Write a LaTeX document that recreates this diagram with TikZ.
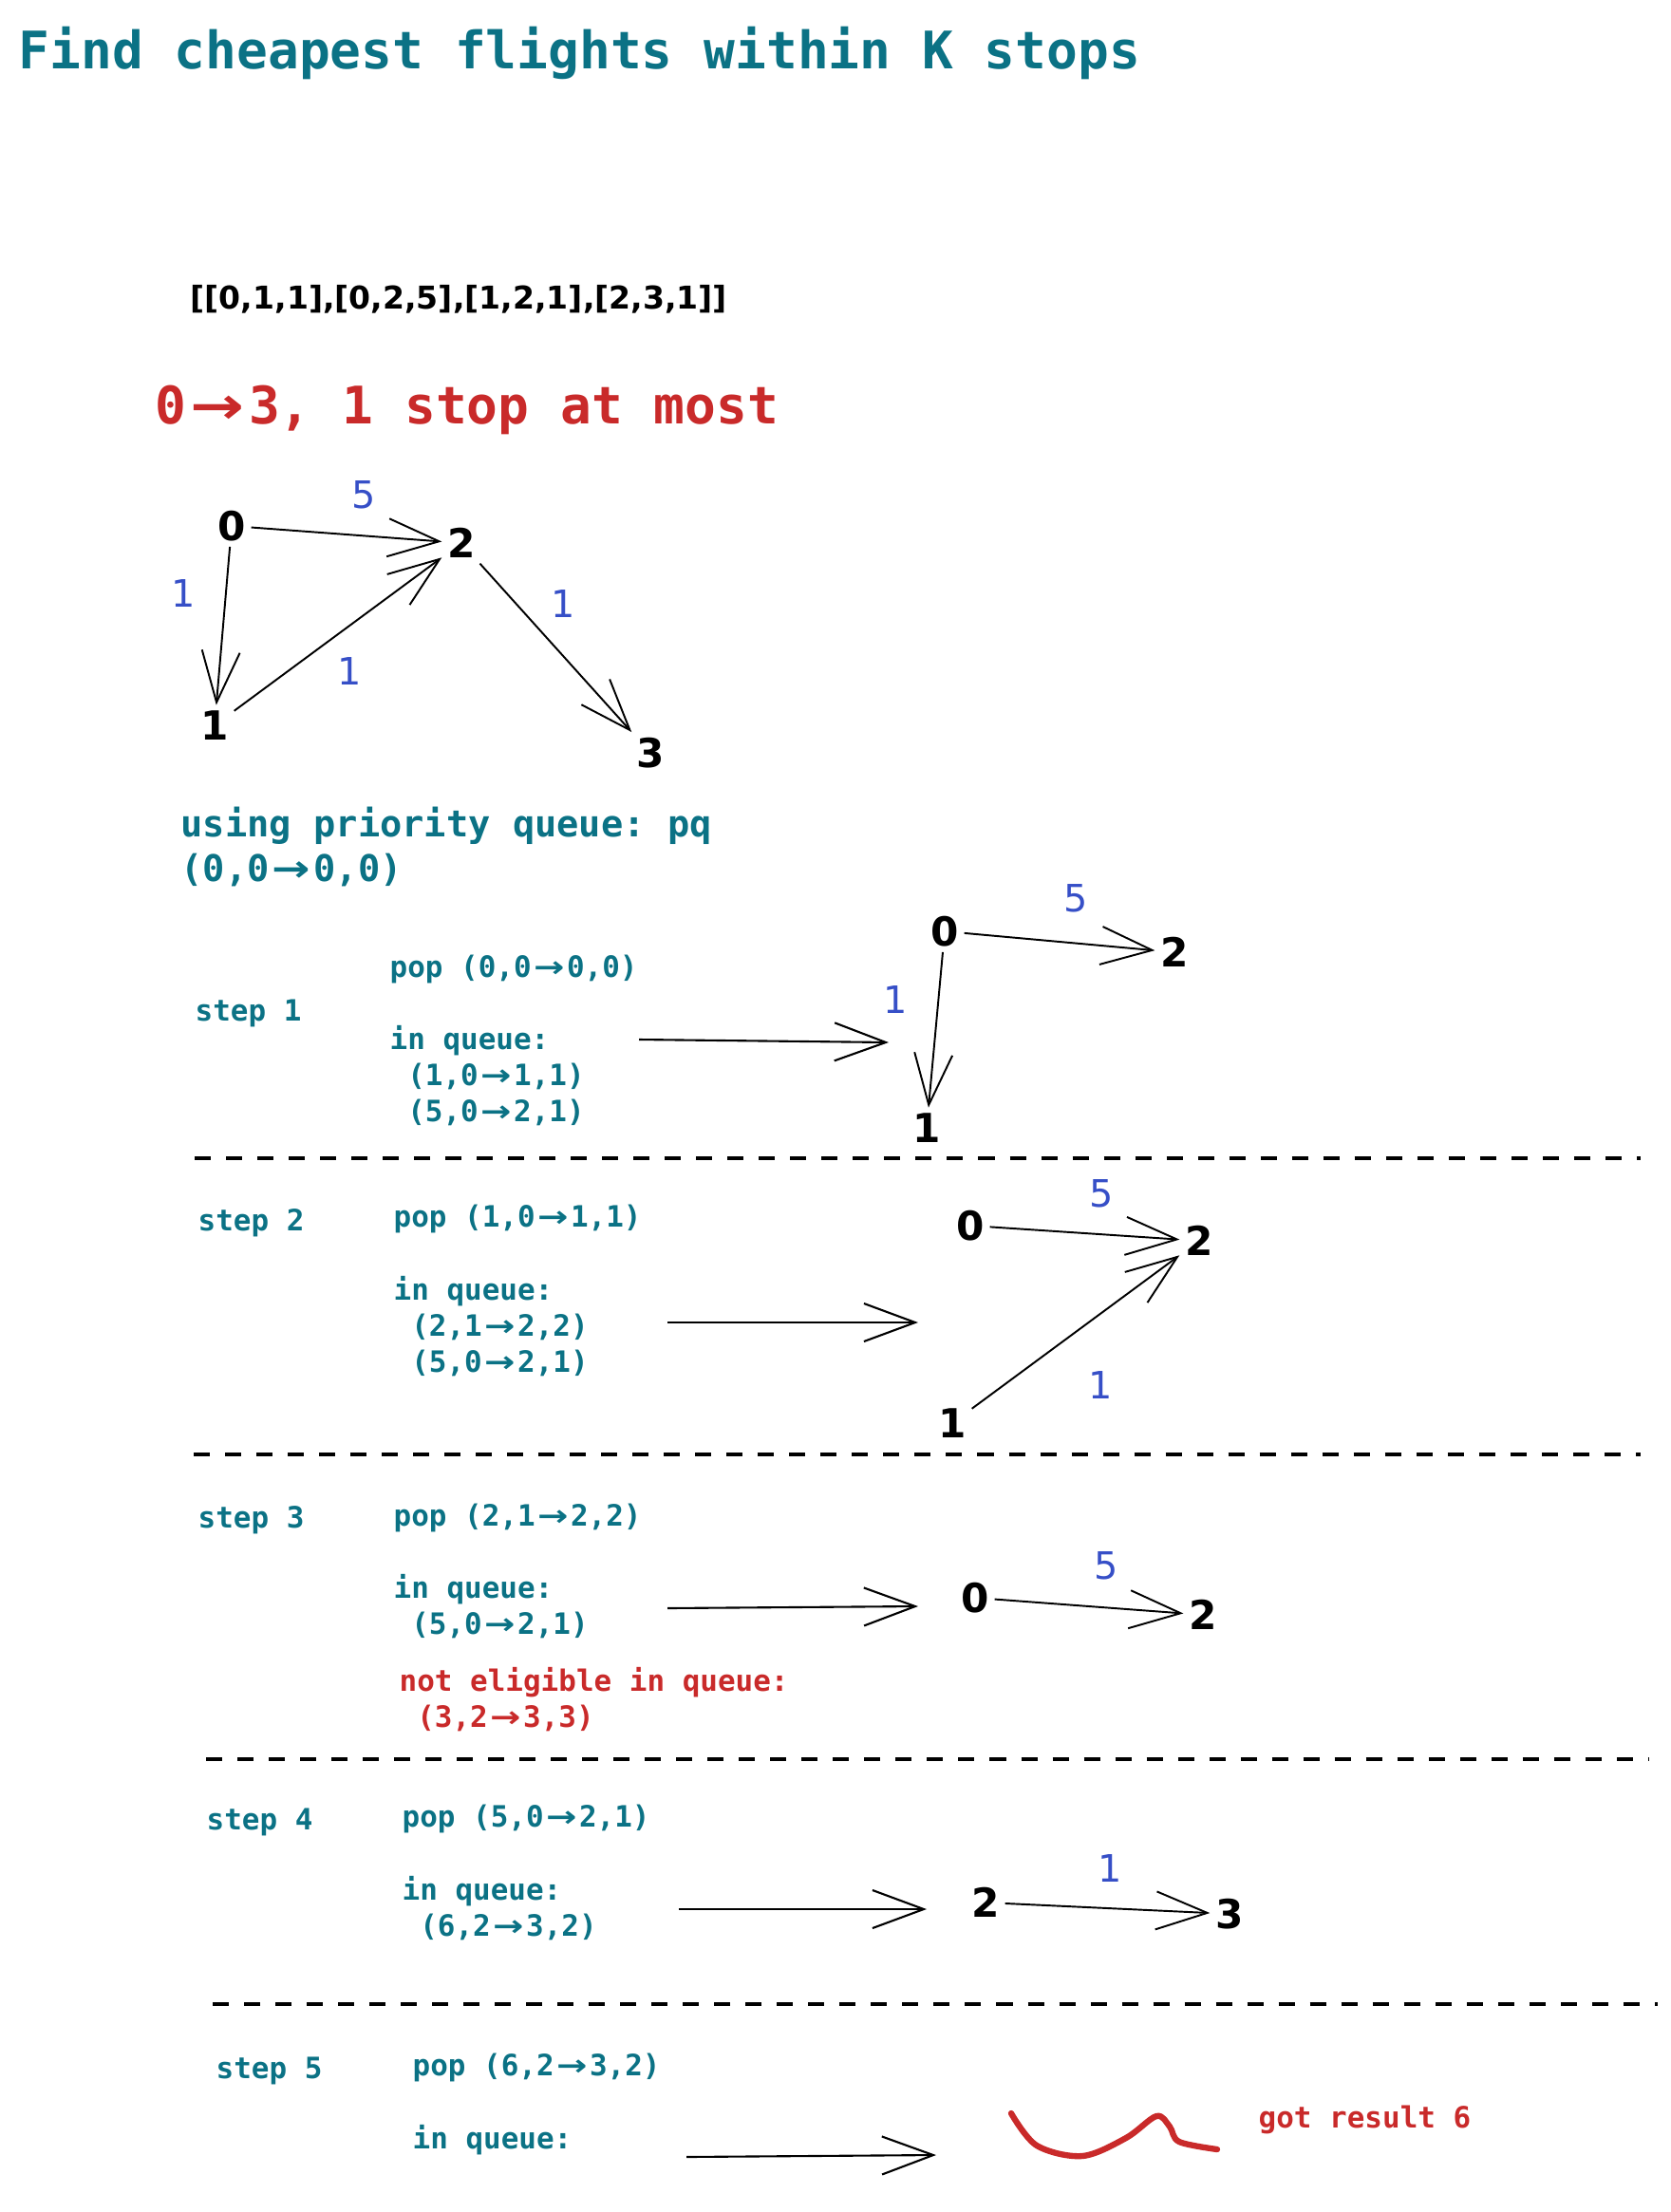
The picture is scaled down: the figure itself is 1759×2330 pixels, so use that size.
\documentclass[tikz,border=0pt]{standalone}
\usepackage{fontspec}
\setmainfont{DejaVu Sans}
\setmonofont{DejaVu Sans Mono}
\newfontfamily\arrowfont{DejaVu Sans}
\usetikzlibrary{positioning,arrows.meta}

\definecolor{tealtxt}{RGB}{11,114,133}
\definecolor{redtxt}{RGB}{201,42,42}
\definecolor{bluetxt}{RGB}{54,79,199}

% seta larga (ocupa duas colunas do texto mono)
\newcommand{\qarrow}{\makebox[1.204em]{\arrowfont\bfseries\scalebox{1.25}[1]{→}}}

\tikzset{
  vert/.style={inner sep=1.5pt,font=\bfseries\fontsize{12}{15}\selectfont},
  wlabel/.style={inner sep=0pt,text=bluetxt,font=\fontsize{11.3}{13}\selectfont},
  steptxt/.style={inner sep=0pt,anchor=west,align=left,text=tealtxt,
    font=\ttfamily\bfseries\fontsize{8.8}{10.7}\selectfont},
  warn/.style={steptxt,text=redtxt},
  link/.style={->,line width=0.55pt},
  divline/.style={line width=0.9pt,dash pattern=on 0.17cm off 0.16cm},
}

\begin{document}
\begin{tikzpicture}[x=0.01cm,y=-0.01cm,>={Straight Barb[length=5.4mm,width=4mm]}]
\useasboundingbox (0,0) rectangle (1759,2330);

% cabecalho
\node[anchor=west,inner sep=0pt,text=tealtxt,font=\ttfamily\bfseries\fontsize{15.5}{18}\selectfont] (title) at (19,56) {Find cheapest flights within K stops};
\node[anchor=west,inner sep=0pt,font=\bfseries\fontsize{9.4}{12}\selectfont] (flights) at (200,315) {[[0,1,1],[0,2,5],[1,2,1],[2,3,1]]};
\node[anchor=west,inner sep=0pt,text=redtxt,font=\ttfamily\bfseries\fontsize{15.5}{19}\selectfont] (goal) at (163,432) {0\qarrow3, 1 stop at most};

% grafo completo
\node[vert] (g0) at (244,554) {0};
\node[vert] (g2) at (486,572) {2};
\node[vert] (g1) at (226,764) {1};
\node[vert] (g3) at (685,793) {3};
\node[wlabel] (g02w) at (383,521) {5};
\node[wlabel] (g01w) at (193,625) {1};
\node[wlabel] (g12w) at (368,707) {1};
\node[wlabel] (g23w) at (593,636) {1};
\foreach \x/\y in {g0/g2,g0/g1,g1/g2,g2/g3} {\draw[link] (\x) -- (\y);}

\node[anchor=west,inner sep=0pt,align=left,text=tealtxt,font=\ttfamily\bfseries\fontsize{11}{13.1}\selectfont] (pq) at (190,892) {using priority queue: pq\\(0,0\qarrow0,0)};

% step 1
\node[steptxt] (s1) at (205,1067) {step 1};
\node[steptxt] (s1pop) at (410,1021) {pop (0,0\qarrow0,0)};
\node[steptxt] (s1q) at (410,1133) {in queue:\\~(1,0\qarrow1,1)\\~(5,0\qarrow2,1)};
\node[vert] (a0) at (995,981) {0};
\node[vert] (a2) at (1237,1003) {2};
\node[vert] (a1) at (976,1188) {1};
\node[wlabel] (a02w) at (1133,946) {5};
\node[wlabel] (a01w) at (943,1053) {1};
\foreach \x/\y in {a0/a2,a0/a1} {\draw[link] (\x) -- (\y);}
\coordinate (s1from) at (673,1095);
\coordinate (s1to) at (936,1098);

% step 2
\node[steptxt] (s2) at (208,1288) {step 2};
\node[steptxt] (s2pop) at (414,1284) {pop (1,0\qarrow1,1)};
\node[steptxt] (s2q) at (414,1397) {in queue:\\~(2,1\qarrow2,2)\\~(5,0\qarrow2,1)};
\node[vert] (b0) at (1022,1291) {0};
\node[vert] (b2) at (1263,1307) {2};
\node[vert] (b1) at (1003,1499) {1};
\node[wlabel] (b02w) at (1160,1257) {5};
\node[wlabel] (b12w) at (1159,1459) {1};
\foreach \x/\y in {b0/b2,b1/b2} {\draw[link] (\x) -- (\y);}
\coordinate (s2from) at (703,1393);
\coordinate (s2to) at (967,1393);

% step 3
\node[steptxt] (s3) at (208,1601) {step 3};
\node[steptxt] (s3pop) at (414,1599) {pop (2,1\qarrow2,2)};
\node[steptxt] (s3q) at (414,1692) {in queue:\\~(5,0\qarrow2,1)};
\node[warn] (s3skip) at (420,1790) {not eligible in queue:\\~(3,2\qarrow3,3)};
\node[vert] (c0) at (1027,1683) {0};
\node[vert] (c2) at (1267,1701) {2};
\node[wlabel] (c02w) at (1165,1649) {5};
\draw[link] (c0) -- (c2);
\coordinate (s3from) at (703,1694);
\coordinate (s3to) at (967,1692);

% step 4
\node[steptxt] (s4) at (217,1919) {step 4};
\node[steptxt] (s4pop) at (423,1916) {pop (5,0\qarrow2,1)};
\node[steptxt] (s4q) at (423,2010) {in queue:\\~(6,2\qarrow3,2)};
\node[vert] (d2) at (1038,2004) {2};
\node[vert] (d3) at (1295,2016) {3};
\node[wlabel] (d23w) at (1169,1968) {1};
\draw[link] (d2) -- (d3);
\coordinate (s4from) at (715,2011);
\coordinate (s4to) at (976,2011);

% step 5
\node[steptxt] (s5) at (227,2181) {step 5};
\node[steptxt] (s5pop) at (434,2178) {pop (6,2\qarrow3,2)};
\node[steptxt] (s5q) at (434,2254) {in queue:};
\coordinate (s5from) at (723,2272);
\coordinate (s5to) at (986,2270);
\draw[redtxt,line width=1.8pt,line cap=round,line join=round] plot[smooth,tension=0.55] coordinates {(1065,2226) (1092,2260) (1140,2271) (1186,2252) (1218,2229) (1232,2240) (1242,2256) (1282,2264)};
\node[warn] (result) at (1325,2233) {got result 6};

% setas entre fila e grafo
\foreach \x/\y in {s1from/s1to,s2from/s2to,s3from/s3to,s4from/s4to,s5from/s5to} {\draw[->,line width=0.6pt] (\x) -- (\y);}

% separadores
\foreach \y/\xa/\xb in {1220/205/1728,1532/204/1728,1853/217/1736,2111/224/1746} {\draw[divline] (\xa,\y) -- (\xb,\y);}
\end{tikzpicture}
\end{document}
